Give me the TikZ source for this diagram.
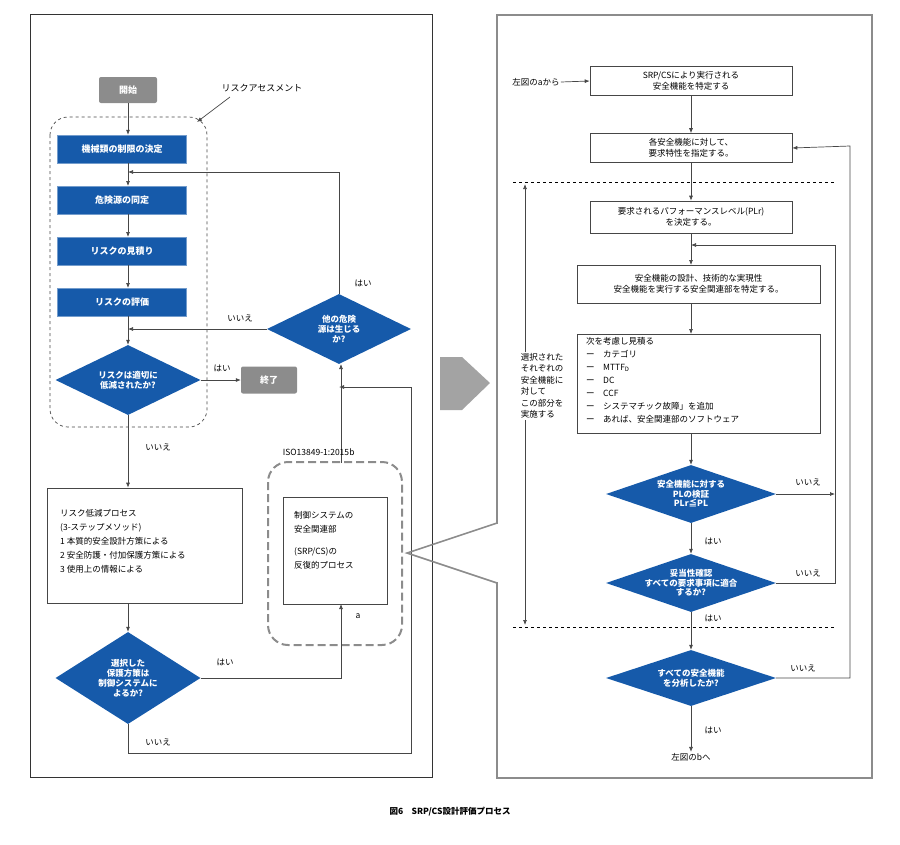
\documentclass[tikz,border=0pt]{standalone}
\usepackage{fontspec}
\setmainfont{Noto Sans CJK JP}
\usetikzlibrary{shapes.geometric,arrows.meta}
\definecolor{bl}{RGB}{22,90,170}
\definecolor{gr}{RGB}{140,140,140}
\definecolor{ln}{RGB}{70,70,70}
\tikzset{
 bluebox/.style={draw=bl!60!white,fill=bl,text=white,font=\bfseries\fontsize{9}{10}\selectfont,minimum width=129pt,minimum height=28pt,inner sep=0},
 graybox/.style={fill=gr,text=white,font=\bfseries\fontsize{9}{10}\selectfont,rounded corners=2pt,inner sep=0},
 dia/.style={diamond,fill=bl,inner sep=0},
 diat/.style={text=white,font=\bfseries\fontsize{8.5}{10}\selectfont,align=center,inner sep=0},
 wbox/.style={draw=ln,line width=0.6pt,font=\fontsize{8.5}{10.5}\selectfont,inner sep=0,align=center},
 lbl/.style={font=\fontsize{8.5}{10}\selectfont,inner sep=1pt},
 con/.style={draw=ln,line width=0.7pt,-{Latex[length=5pt,width=4pt]}},
 lin/.style={draw=ln,line width=0.7pt},
}
\begin{document}
\begin{tikzpicture}[x=1pt,y=-1pt]
\useasboundingbox (0,0) rectangle (900,844);
% frames
\draw[line width=1pt,black!80] (30,14) rectangle (432,777);
\draw[line width=1.6pt,gr] (497,15) rectangle (872,778);
\fill[white] (494,524) rectangle (500,582);
\fill[gr!80] (440,357) -- (462,357) -- (490,383) -- (462,410) -- (440,410) -- cycle;
% left
\node[graybox,minimum width=58pt,minimum height=26pt] (start) at (128,90) {開始};
\draw[dashed,ln,line width=0.7pt,rounded corners=18pt] (50,117) rectangle (207,427);
\node[lbl,font=\fontsize{9}{10}\selectfont] (ra) at (262,88) {リスクアセスメント};
\coordinate (rae) at (197,122);
\draw[con] (230,97) -- (rae);
\node[bluebox] (b1) at (122,149) {機械類の制限の決定};
\node[bluebox] (b2) at (122,200) {危険源の同定};
\node[bluebox] (b3) at (122,251) {リスクの見積り};
\node[bluebox] (b4) at (122,302) {リスクの評価};
\node[dia,minimum width=145pt,minimum height=70pt] (d1) at (128,380) {};
\node[diat] at (d1) {リスクは適切に\\低減されたか?};
\node[graybox,minimum width=56pt,minimum height=27pt] (end) at (269,380) {終了};
\node[dia,minimum width=144pt,minimum height=70pt] (d2) at (339,329) {};
\node[diat] at (d2) {他の危険\\源は生じる\\か?};
\draw[con] (start) -- (start|-b1.north);
\draw[con] (128,163) -- (128,186);
\draw[con] (128,214) -- (128,237);
\draw[con] (128,265) -- (128,288);
\draw[con] (128,316) -- (d1.north);
\draw[con] (d1.east) -- (end.west);
\node[lbl] at (222,368) {はい};
\draw[con] (d2.north) -- (339,172) -- (128,172);
\draw[con] (d2.west) -- (128,329);
\node[lbl] at (363,283) {はい};
\node[lbl] at (240,318) {いいえ};
\node[wbox,minimum width=195pt,minimum height=115pt] (rr) at (144.5,545.5) {};
\node[lbl,align=left,anchor=north west,font=\fontsize{8.5}{14}\selectfont] at (59,508) {リスク低減プロセス\\(3-ステップメソッド)\\1 本質的安全設計方策による\\2 安全防護・付加保護方策による\\3 使用上の情報による};
\draw[con] (d1.south) -- (d1.south|-rr.north);
\node[lbl] at (158,447) {いいえ};
\node[dia,minimum width=145pt,minimum height=92pt] (d3) at (128,678) {};
\node[diat] at (d3) {選択した\\保護方策は\\制御システムに\\よるか?};
\draw[con] (d3.north|-rr.south) -- (d3.north);
\draw[dashed,gr,line width=2pt,dash pattern=on 8pt off 4pt,rounded corners=20pt] (268,462) rectangle (402,645);
\node[wbox,minimum width=104pt,minimum height=107pt] (srp) at (335,550.5) {};
\node[lbl,align=left,anchor=north west,font=\fontsize{8.5}{14}\selectfont] at (293,510) {制御システムの\\安全関連部\\[8pt](SRP/CS)の\\反復的プロセス};
\draw[con] (d3.east) -- (341,678) -- (341,604);
\node[lbl] at (225,662) {はい};
\node[lbl] at (358,616) {a};
\draw[con] (d3.south) -- (128,753) -- (411,753) -- (411,387) -- (339,387);
\node[lbl] at (158,742) {いいえ};
\draw[con] (341,463) -- (341,364);
\node[lbl] at (316,452) {ISO13849-1:2015};
\node[lbl] at (352,452) {b};
% callout
\draw[gr,line width=1.6pt] (497,523) -- (407,553) -- (497,583);
% right
\node[wbox,minimum width=202pt,minimum height=29pt] (r1) at (691,81) {SRP/CSにより実行される\\安全機能を特定する};
\node[lbl] (from) at (536,82) {左図のaから};
\draw[con] (from.east) -- (r1.west);
\node[wbox,minimum width=202pt,minimum height=29pt] (r2) at (691,148) {各安全機能に対して、\\要求特性を指定する。};
\draw[con] (r1) -- (r2);
\draw[dashed,black,line width=0.8pt] (513,182) -- (835,182);
\node[wbox,minimum width=202pt,minimum height=32pt] (r3) at (691,217) {要求されるパフォーマンスレベル(PLr)\\を決定する。};
\draw[con] (r2) -- (r3);
\node[wbox,minimum width=243pt,minimum height=38pt] (r4) at (698.5,284) {安全機能の設計、技術的な実現性\\安全機能を実行する安全関連部を特定する。};
\draw[con] (r3.south) -- (691,265);
\node[wbox,minimum width=243pt,minimum height=99pt] (r5) at (698.5,383.5) {};
\node[lbl,align=left,anchor=north west,font=\fontsize{8.5}{13}\selectfont] at (585,336) {次を考慮し見積る\\ー\quad カテゴリ\\ー\quad MTTF\textsubscript{D}\\ー\quad DC\\ー\quad CCF\\ー\quad システマチック故障」を追加\\ー\quad あれば、安全関連部のソフトウェア};
\draw[con] (691,303) -- (691,334);
\node[dia,minimum width=170pt,minimum height=58pt] (p1) at (691,494) {};
\node[diat,font=\bfseries\fontsize{8.5}{9.5}\selectfont] at (p1) {安全機能に対する\\PLの検証\\PLr≦PL};
\draw[con] (691,433) -- (p1.north);
\node[dia,minimum width=170pt,minimum height=58pt] (p2) at (691,583) {};
\node[diat,font=\bfseries\fontsize{8.5}{9.5}\selectfont] at (p2) {妥当性確認\\すべての要求事項に適合\\するか?};
\draw[con] (p1.south) -- (p2.north);
\draw[dashed,black,line width=0.8pt] (513,627) -- (835,627);
\node[dia,minimum width=170pt,minimum height=56pt] (p3) at (691,678) {};
\node[diat] at (p3) {すべての安全機能\\を分析したか?};
\draw[con] (p2.south) -- (p3.north);
\node[lbl] (tob) at (691,757) {左図のbへ};
\draw[con] (p3.south) -- (tob.north);
\node[lbl] at (713,541) {はい};
\node[lbl] at (713,618) {はい};
\node[lbl] at (713,730) {はい};
\draw[con] (p1.east) -- (835,494);
\draw[con] (p2.east) -- (835,583) -- (835,245) -- (691,245);
\draw[con] (p3.east) -- (850,678) -- (850,146) -- (r2.east);
\node[lbl] at (808,482) {いいえ};
\node[lbl] at (808,573) {いいえ};
\node[lbl] at (803,668) {いいえ};
\node[lbl,align=left,font=\fontsize{8.5}{11.5}\selectfont] (sel) at (542,386) {選択された\\それぞれの\\安全機能に\\対して\\この部分を\\実施する};
\coordinate (selt) at (525,184);
\coordinate (selb) at (525,625);
\draw[con] (selt|-sel.north) -- (selt);
\draw[con] (selb|-sel.south) -- (selb);
\node[font=\bfseries\fontsize{8.5}{10}\selectfont] (cap) at (450,812) {図6　SRP/CS設計評価プロセス};
\end{tikzpicture}
\end{document}
